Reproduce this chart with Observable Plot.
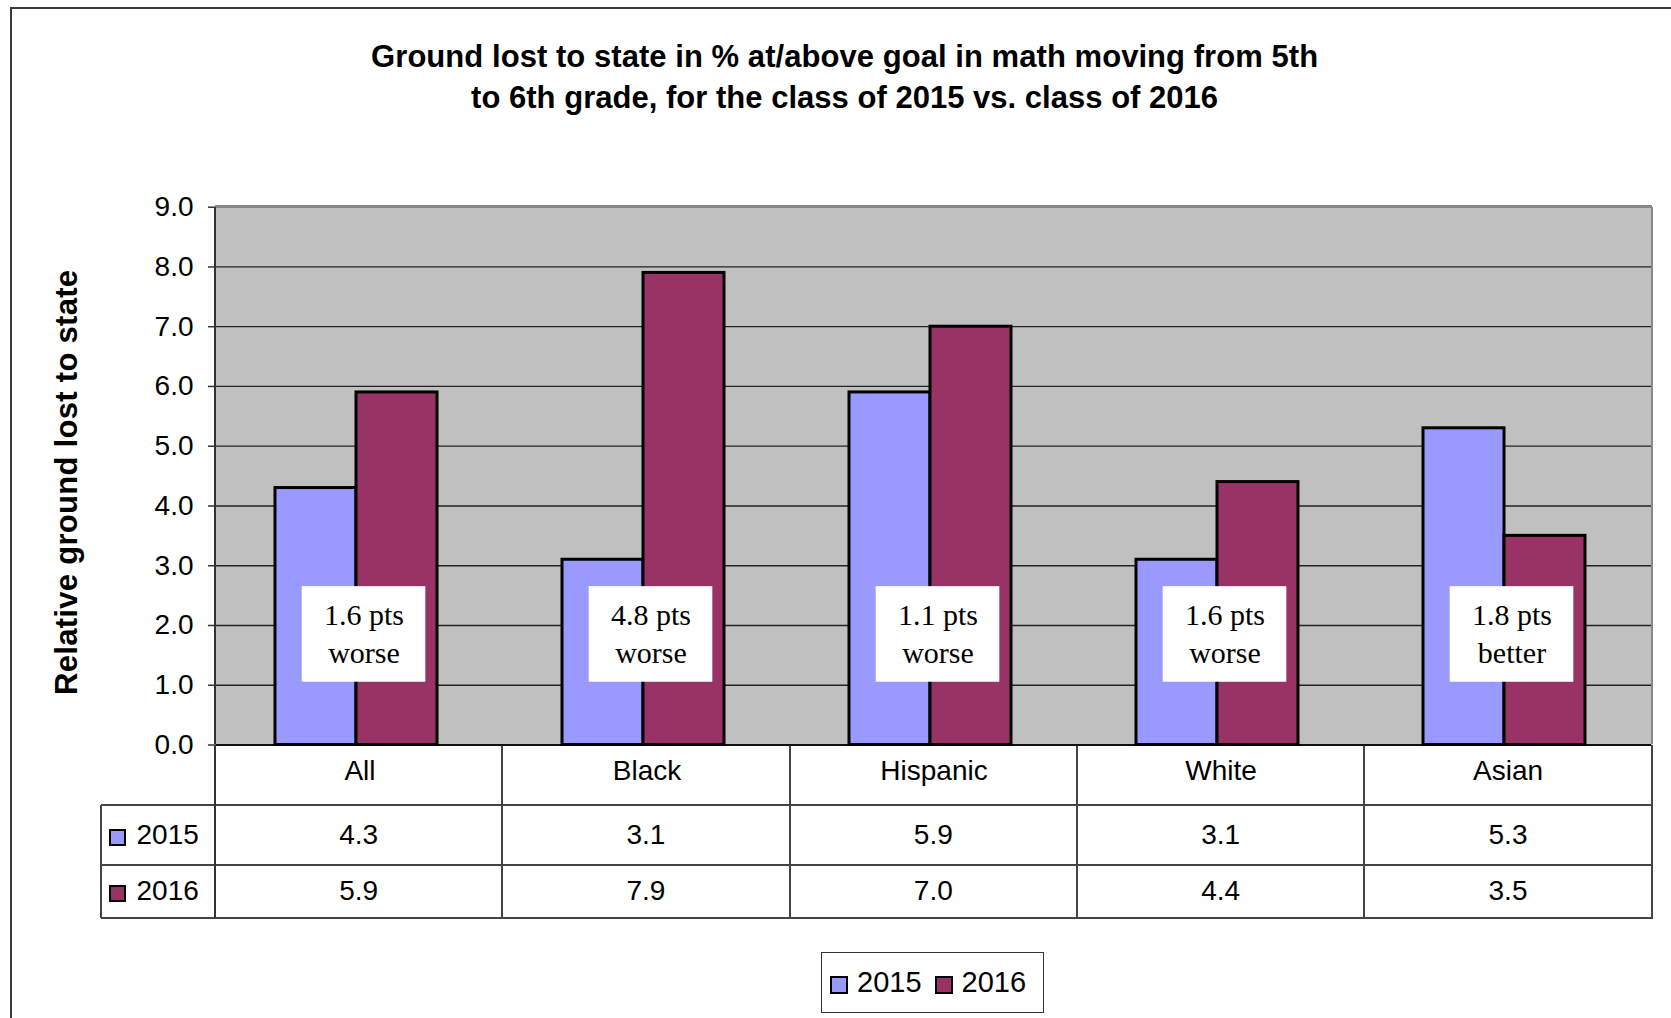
<!DOCTYPE html>
<html><head><meta charset="utf-8">
<script src="https://cdn.jsdelivr.net/npm/d3@7"></script>
<script src="https://cdn.jsdelivr.net/npm/@observablehq/plot@0.6"></script>
<style>
html,body{margin:0;padding:0;background:#fff;overflow:hidden;}
#root{position:relative;width:1671px;height:1018px;font-family:'Liberation Sans',Arial,sans-serif;color:#000;}
.abs{position:absolute;box-sizing:border-box;}
.cell{position:absolute;display:flex;align-items:center;justify-content:center;font-size:28px;}
.sw{display:inline-block;box-sizing:border-box;border:2px solid #000;}
</style></head><body><div id="root"></div>
<script>
// ---- data ----
const categories = ["All", "Black", "Hispanic", "White", "Asian"];
const years = ["2015", "2016"];
const values2015 = [4.3, 3.1, 5.9, 3.1, 5.3];
const values2016 = [5.9, 7.9, 7.0, 4.4, 3.5];
const notes = ["1.6 pts\nworse", "4.8 pts\nworse", "1.1 pts\nworse", "1.6 pts\nworse", "1.8 pts\nbetter"];
const yTicks = [0, 1, 2, 3, 4, 5, 6, 7, 8, 9];
const seriesColors = ["#9999FF", "#993366"];
const titleLines = ["Ground lost to state in % at/above goal in math moving from 5th", "to 6th grade, for the class of 2015 vs. class of 2016"];
const yLabel = "Relative ground lost to state";

// ---- layout ----
const W = 1671, H = 1018;
const ML = 215, MR = 19.3, MT = 206.7, MB = 273.5;
const plotRight = W - MR, plotBottom = H - MB;
const fw = (W - ML - MR) / categories.length;
const boxW = 124;

const rows = categories.flatMap((c, i) => [
  {cat: c, year: years[0], value: values2015[i]},
  {cat: c, year: years[1], value: values2016[i]}
]);
const noteRows = categories.map((c, i) => ({cat: c, note: notes[i]}));

const chart = Plot.plot({
  width: W, height: H,
  marginTop: MT, marginBottom: MB, marginLeft: ML, marginRight: MR,
  style: {background: "transparent", fontFamily: "'Liberation Sans', Arial, sans-serif", fontSize: "28px", color: "#000", overflow: "visible"},
  fx: {domain: categories, padding: 0, label: null},
  x: {domain: years, paddingInner: 0, paddingOuter: 0.755, align: 0.475, axis: null},
  y: {domain: [0, 9], label: null},
  color: {domain: years, range: seriesColors},
  marks: [
    Plot.frame({fill: "#C0C0C0", insetLeft: -0.6, insetRight: -0.6}),
    Plot.gridY(yTicks.slice(1, -1), {stroke: "#222", strokeOpacity: 1, strokeWidth: 1.3}),
    Plot.ruleY([0], {stroke: "#111", strokeWidth: 2}),
    Plot.axisY(yTicks, {tickFormat: d => d.toFixed(1), tickSize: 8, tickPadding: 15, fontSize: 28, label: null, stroke: "#333", strokeWidth: 1.5}),
    Plot.axisFx({anchor: "bottom", tickSize: 0, tickPadding: 15, fontSize: 28, label: null}),
    Plot.barY(rows, {fx: "cat", x: "year", y: "value", fill: "year", stroke: "#000", strokeWidth: 3}),
    Plot.rect(noteRows, {fx: "cat", y1: 1.05, y2: 2.65, fill: "white", insetLeft: (fw - boxW) / 2, insetRight: (fw - boxW) / 2, dx: 4}),
    Plot.text(noteRows, {fx: "cat", y: 1.9, text: "note", fontFamily: "'Liberation Serif', 'Times New Roman', serif", fontSize: 30, lineHeight: 1.29, fill: "#000", dx: 4})
  ]
});
chart.style.position = "absolute";
chart.style.left = "0px";
chart.style.top = "0px";
const root = document.getElementById("root");

function box(l, t, w, h, bg) {
  const d = document.createElement("div");
  d.className = "abs";
  Object.assign(d.style, {left: l + "px", top: t + "px", width: w + "px", height: h + "px", background: bg});
  root.appendChild(d);
  return d;
}

// outer chart frame
box(10, 7, W - 10, 2, "#3a3a3a");
box(10, 7, 2, H - 7, "#3a3a3a");

// table (drawn beneath chart svg)
const hdrX = 100.5;
const rowY = [plotBottom, 804.7, 864.7, 918.3];
const lc = "#444";
for (const y of rowY.slice(1)) box(hdrX, y - 1, plotRight - hdrX + 1, 2, lc);
box(hdrX - 1, rowY[1], 2, rowY[3] - rowY[1], lc);
for (let i = 0; i <= categories.length; i++) box(ML + i * fw - 1, rowY[0], 2, rowY[3] - rowY[0], i === 0 ? "#333" : lc);

const seriesVals = [values2015, values2016];
years.forEach((yr, r) => {
  const top = rowY[r + 1], h = rowY[r + 2] - rowY[r + 1];
  categories.forEach((c, i) => {
    const d = document.createElement("div");
    d.className = "cell";
    Object.assign(d.style, {left: (ML + i * fw) + "px", top: top + "px", width: fw + "px", height: h + "px"});
    d.textContent = seriesVals[r][i].toFixed(1);
    root.appendChild(d);
  });
  const hd = document.createElement("div");
  hd.className = "cell";
  Object.assign(hd.style, {left: hdrX + "px", top: top + "px", width: (ML - hdrX) + "px", height: h + "px", justifyContent: "flex-start", paddingLeft: "8px", boxSizing: "border-box"});
  hd.innerHTML = `<span class="sw" style="width:17px;height:17px;background:${seriesColors[r]};margin-right:11px;margin-top:5px"></span><span>${yr}</span>`;
  root.appendChild(hd);
});

root.appendChild(chart);

// plot area border
box(ML, MT - 1.5, plotRight - ML, 3, "#888");
box(plotRight - 1, MT, 2.5, plotBottom - MT, "#888");
box(ML - 1, MT, 2, plotBottom - MT, "#333");

// legend
const lg = box(820.6, 951.7, 223.8, 61, "#fff");
Object.assign(lg.style, {border: "1.5px solid #333", display: "flex", alignItems: "center", paddingLeft: "8.5px", fontSize: "29px"});
lg.innerHTML = years.map((yr, i) =>
  `<span class="sw" style="width:18px;height:18px;background:${seriesColors[i]};margin-right:9px;margin-top:6px"></span><span style="margin-right:${i === 0 ? 13 : 0}px">${yr}</span>`
).join("");

// title and y label as svg text
const ns = "http://www.w3.org/2000/svg";
const ov = document.createElementNS(ns, "svg");
ov.setAttribute("width", W); ov.setAttribute("height", H);
ov.style.cssText = "position:absolute;left:0;top:0;pointer-events:none;";
function svgText(txt, attrs) {
  const t = document.createElementNS(ns, "text");
  for (const k in attrs) t.setAttribute(k, attrs[k]);
  t.textContent = txt;
  ov.appendChild(t);
}
const tBase = {"font-family": "'Liberation Sans', Arial, sans-serif", "font-weight": "bold", "font-size": 31, "text-anchor": "middle", fill: "#000", lengthAdjust: "spacing"};
svgText(titleLines[0], {...tBase, x: 844.6, y: 66.7, textLength: 947});
svgText(titleLines[1], {...tBase, x: 844.6, y: 108.3, textLength: 747});
svgText(yLabel, {...tBase, x: 0, y: 0, textLength: 425, transform: "translate(77.3,482.4) rotate(-90)"});
root.appendChild(ov);
</script></body></html>
